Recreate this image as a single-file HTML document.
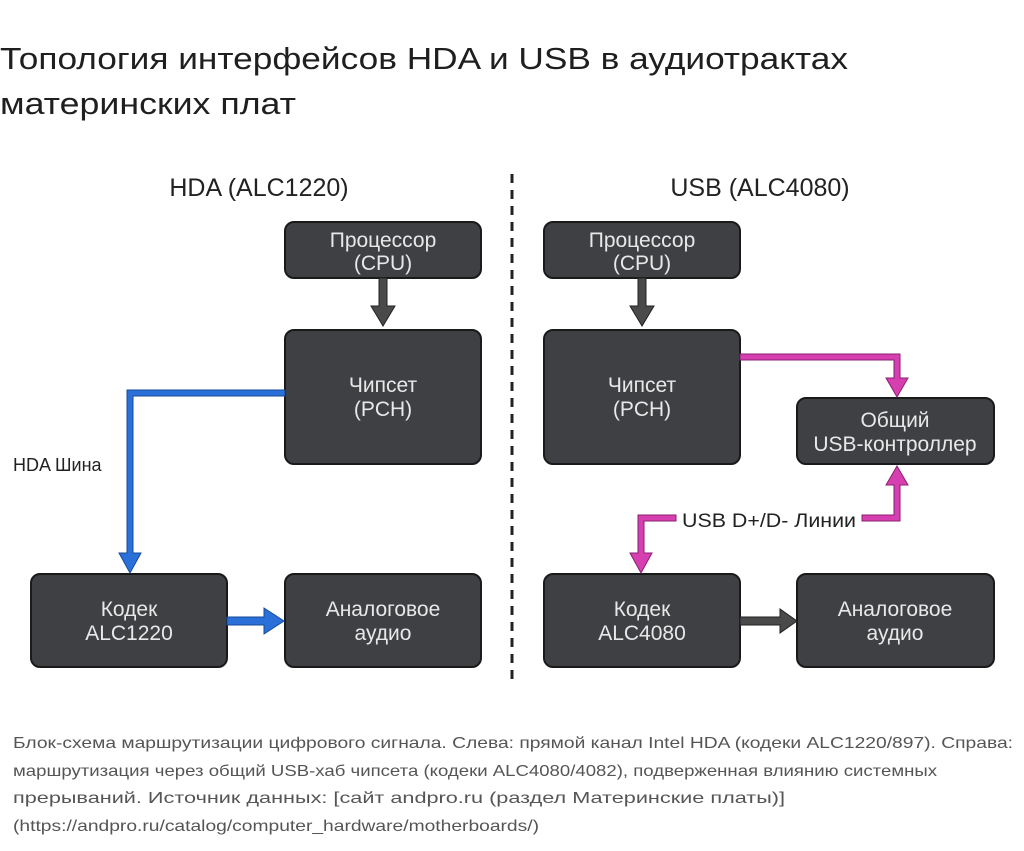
<!DOCTYPE html>
<html><head><meta charset="utf-8"><style>
body{margin:0;background:#fff;width:1024px;height:846px;overflow:hidden;font-family:"Liberation Sans",sans-serif}
</style></head><body>
<svg width="1024" height="846" xmlns="http://www.w3.org/2000/svg" font-family="Liberation Sans, sans-serif">
<text x="0" y="69" font-size="31" fill="#1f1f1f" textLength="848" lengthAdjust="spacingAndGlyphs">Топология интерфейсов HDA и USB в аудиотрактах</text>
<text x="0" y="114" font-size="31" fill="#1f1f1f" textLength="296" lengthAdjust="spacingAndGlyphs">материнских плат</text>
<g font-size="25" fill="#222" text-anchor="middle">
<text x="259" y="196">HDA (ALC1220)</text>
<text x="760" y="196">USB (ALC4080)</text>
</g>
<line x1="512" y1="174" x2="512" y2="686" stroke="#222" stroke-width="3" stroke-dasharray="9,7"/>
<g fill="#3f4043" stroke="#1a1a1a" stroke-width="2">
<rect x="285" y="222" width="196" height="56" rx="9"/>
<rect x="285" y="330" width="196" height="134" rx="9"/>
<rect x="31" y="574" width="196" height="93" rx="9"/>
<rect x="285" y="574" width="196" height="93" rx="9"/>
<rect x="544" y="222" width="196" height="56" rx="9"/>
<rect x="544" y="330" width="196" height="134" rx="9"/>
<rect x="797" y="398" width="197" height="66" rx="9"/>
<rect x="544" y="574" width="196" height="93" rx="9"/>
<rect x="797" y="574" width="197" height="93" rx="9"/>
</g>
<g font-size="21" fill="#e8e8e8" text-anchor="middle">
<text x="383" y="247">Процессор</text><text x="383" y="270">(CPU)</text>
<text x="383" y="392">Чипсет</text><text x="383" y="416">(PCH)</text>
<text x="129" y="616">Кодек</text><text x="129" y="640">ALC1220</text>
<text x="383" y="616">Аналоговое</text><text x="383" y="640">аудио</text>
<text x="642" y="247">Процессор</text><text x="642" y="270">(CPU)</text>
<text x="642" y="392">Чипсет</text><text x="642" y="416">(PCH)</text>
<text x="895" y="427">Общий</text><text x="895" y="451">USB-контроллер</text>
<text x="642" y="616">Кодек</text><text x="642" y="640">ALC4080</text>
<text x="895" y="616">Аналоговое</text><text x="895" y="640">аудио</text>
</g>
<g fill="#4a4a4a" stroke="#222" stroke-width="1">
<polygon points="379,278 387,278 387,306 395,306 383,326 371,306 379,306"/>
<polygon points="638,278 646,278 646,306 654,306 642,326 630,306 638,306"/>
<polygon points="740,617 780,617 780,609 797,621 780,633 780,625 740,625"/>
</g>
<g fill="#2a70d8" stroke="#174a9a" stroke-width="1">
<polygon points="285,390 285,396 133,396 133,553 141,553 130,573 119,553 127,553 127,390"/>
<polygon points="227,617 264,617 264,608 284,621 264,634 264,625 227,625"/>
</g>
<text x="13" y="471" font-size="18" fill="#222">HDA Шина</text>
<g fill="#d63fb0" stroke="#8a1f70" stroke-width="1">
<polygon points="740,354 900,354 900,378 908,378 897,397 886,378 894,378 894,360 740,360"/>
<polygon points="862,515 894,515 894,485 886,485 897,466 908,485 900,485 900,521 862,521"/>
<polygon points="676,515 638,515 638,553 630,553 641,573 652,553 644,553 644,521 676,521"/>
</g>
<text x="682" y="527" font-size="19" fill="#222" textLength="174" lengthAdjust="spacingAndGlyphs">USB D+/D- Линии</text>
<g font-size="16" fill="#555">
<text x="13" y="748" textLength="1000" lengthAdjust="spacingAndGlyphs">Блок-схема маршрутизации цифрового сигнала. Слева: прямой канал Intel HDA (кодеки ALC1220/897). Справа:</text>
<text x="13" y="776" textLength="924" lengthAdjust="spacingAndGlyphs">маршрутизация через общий USB-хаб чипсета (кодеки ALC4080/4082), подверженная влиянию системных</text>
<text x="13" y="803" textLength="772" lengthAdjust="spacingAndGlyphs">прерываний. Источник данных: [сайт andpro.ru (раздел Материнские платы)]</text>
<text x="13" y="831" textLength="526" lengthAdjust="spacingAndGlyphs">(https://andpro.ru/catalog/computer_hardware/motherboards/)</text>
</g>
</svg>
</body></html>
